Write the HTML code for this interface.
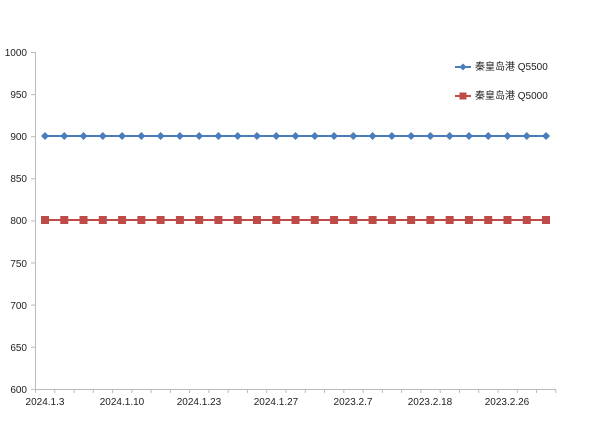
<!DOCTYPE html>
<html><head><meta charset="utf-8"><style>
body{margin:0;background:#fff}
svg text{font-family:"Liberation Sans","Noto Sans CJK SC",sans-serif;font-size:10px;fill:#222}
</style></head><body>
<svg id="s" width="600" height="423" xmlns="http://www.w3.org/2000/svg">
<line x1="35.5" y1="52" x2="35.5" y2="389" stroke="#bbb"/>
<line x1="35" y1="389.5" x2="556" y2="389.5" stroke="#bbb"/>
<g text-anchor="end">
<text x="27" y="56">1000</text><text x="27" y="98">950</text><text x="27" y="140">900</text>
<text x="27" y="182">850</text><text x="27" y="224">800</text><text x="27" y="267">750</text>
<text x="27" y="309">700</text><text x="27" y="351">650</text><text x="27" y="393">600</text>
</g>
<g text-anchor="middle">
<text x="45" y="405">2024.1.3</text><text x="122" y="405">2024.1.10</text>
<text x="199" y="405">2024.1.23</text><text x="276" y="405">2024.1.27</text>
<text x="353" y="405">2023.2.7</text><text x="430" y="405">2023.2.18</text>
<text x="507" y="405">2023.2.26</text>
</g>
<line x1="45" y1="136" x2="546" y2="136" stroke="#4a7ebb" stroke-width="2"/>
<line x1="45" y1="220" x2="546" y2="220" stroke="#be4b48" stroke-width="2"/>
<g id="m"></g>
<line x1="455" y1="67" x2="471" y2="67" stroke="#4a7ebb" stroke-width="2"/>
<path d="M463 63.5L466.5 67L463 70.5L459.5 67Z" fill="#4a7ebb"/>
<text x="475" y="70">秦皇岛港 Q5500</text>
<line x1="455" y1="96" x2="471" y2="96" stroke="#be4b48" stroke-width="2"/>
<rect x="459.5" y="92.5" width="7" height="7" fill="#be4b48"/>
<text x="475" y="99">秦皇岛港 Q5000</text>
</svg>
<script>
var g=document.getElementById('m'),h='';
for(var i=0;i<28;i++){var tx=35.5+i*19.27;h+='<line x1="'+tx+'" y1="389" x2="'+tx+'" y2="393" stroke="#bbb"/>';}
for(var i=0;i<9;i++){var ty=52.5+i*42.1;h+='<line x1="31" y1="'+ty+'" x2="35" y2="'+ty+'" stroke="#bbb"/>';}
for(var i=0;i<27;i++){var x=45+i*19.27;
h+='<path d="M'+x+' 132L'+(x+4)+' 136L'+x+' 140L'+(x-4)+' 136Z" fill="#4a7ebb"/>';
h+='<rect x="'+(x-4)+'" y="216" width="8" height="8" fill="#be4b48"/>';}
g.innerHTML=h;
</script>
</body></html>
